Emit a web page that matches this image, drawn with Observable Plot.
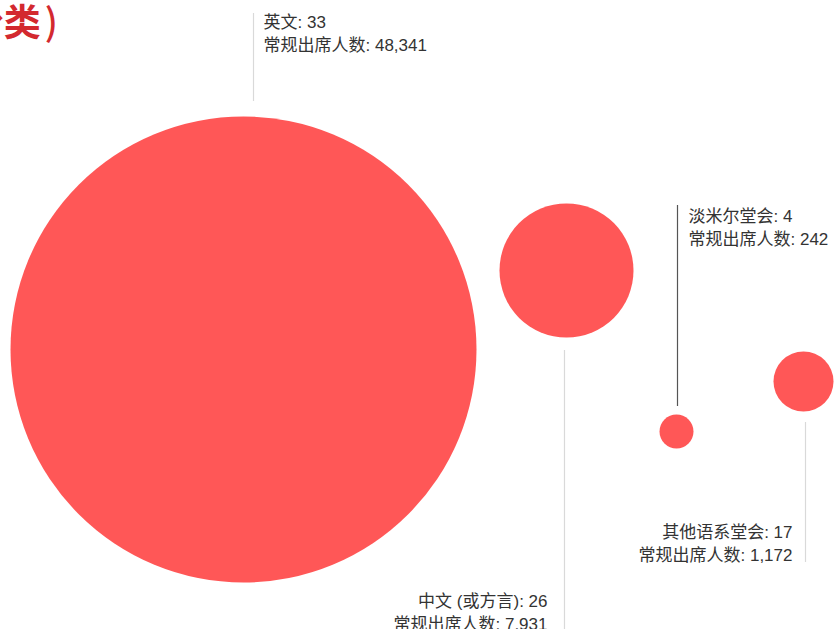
<!DOCTYPE html>
<html>
<head>
<meta charset="utf-8">
<script src="https://cdn.jsdelivr.net/npm/d3@7"></script>
<script src="https://cdn.jsdelivr.net/npm/@observablehq/plot@0.6"></script>
<style>
  html, body { margin: 0; padding: 0; background: #fff; overflow: hidden; }
  #wrap { position: relative; width: 834px; height: 629px; overflow: hidden; }
  #title {
    position: absolute; right: 776px; top: -5px; white-space: nowrap;
    font-family: "Noto Sans CJK SC", sans-serif; font-weight: 700;
    font-size: 37px; color: #d3292f; line-height: 1.4;
  }
  #title .p { display: inline-block; margin-left: 4px; font-weight: 500; }
  #chart { position: absolute; left: 0; top: 0; }
</style>
</head>
<body>
<div id="wrap">
  <div id="chart"></div>
  <div id="title">新加坡教会堂会（按语言分类<span class="p">)</span></div>
</div>
<script>
// ---- data ----
const languages = ["英文", "中文 (或方言)", "淡米尔堂会", "其他语系堂会"];
const congregations = [33, 26, 4, 17];
const attendance = [48341, 7931, 242, 1172];

// ---- layout (bubble placement and label placement, in pixels) ----
const bubbleX = [243, 566, 676, 803];
const bubbleY = [349, 270, 431, 381];
const leaderX = [253, 564, 677, 805];
const leaderY1 = [13, 350, 205, 422];
const leaderY2 = [101, 629, 406, 562];
const leaderColor = ["#d9d9d9", "#d9d9d9", "#555555", "#d9d9d9"];
const labelX = [263, 547, 688, 792];
const labelY = [11, 590, 205, 521];
const labelAnchor = ["start", "end", "start", "end"];

// size scale (attendance -> radius)
const rDomain = [0, 242, 1172, 7931, 48341];
const rRange = [0, 17, 30, 67, 233];

const data = languages.map((lang, i) => ({
  lang,
  congregations: congregations[i],
  attendance: attendance[i],
  x: bubbleX[i], y: bubbleY[i],
  lx: leaderX[i], ly1: leaderY1[i], ly2: leaderY2[i], lc: leaderColor[i],
  tx: labelX[i], ty: labelY[i], anchor: labelAnchor[i],
  label: `${lang}: ${congregations[i]}\n常规出席人数: ${d3.format(",")(attendance[i])}`
}));

const W = 834, H = 629;
const chart = Plot.plot({
  width: W, height: H,
  margin: 0,
  x: { domain: [0, W], range: [0, W], axis: null },
  y: { domain: [0, H], range: [0, H], axis: null },
  r: { type: "linear", domain: rDomain, range: rRange },
  style: { fontFamily: "'Liberation Sans', 'Noto Sans CJK SC', sans-serif", background: "#fff" },
  marks: [
    Plot.ruleX(data, { x: "lx", y1: "ly1", y2: "ly2", stroke: d => d.lc, strokeWidth: 1.2 }),
    Plot.dot(data, { x: "x", y: "y", r: "attendance", fill: "#ff5757", stroke: "none" }),
    ...["start", "end"].map(a => Plot.text(data.filter(d => d.anchor === a), {
      x: "tx", y: "ty", text: "label", textAnchor: a, lineAnchor: "top",
      lineHeight: 1.36, fontSize: 17, fill: "#333"
    }))
  ]
});
document.getElementById("chart").appendChild(chart);
</script>
</body>
</html>
